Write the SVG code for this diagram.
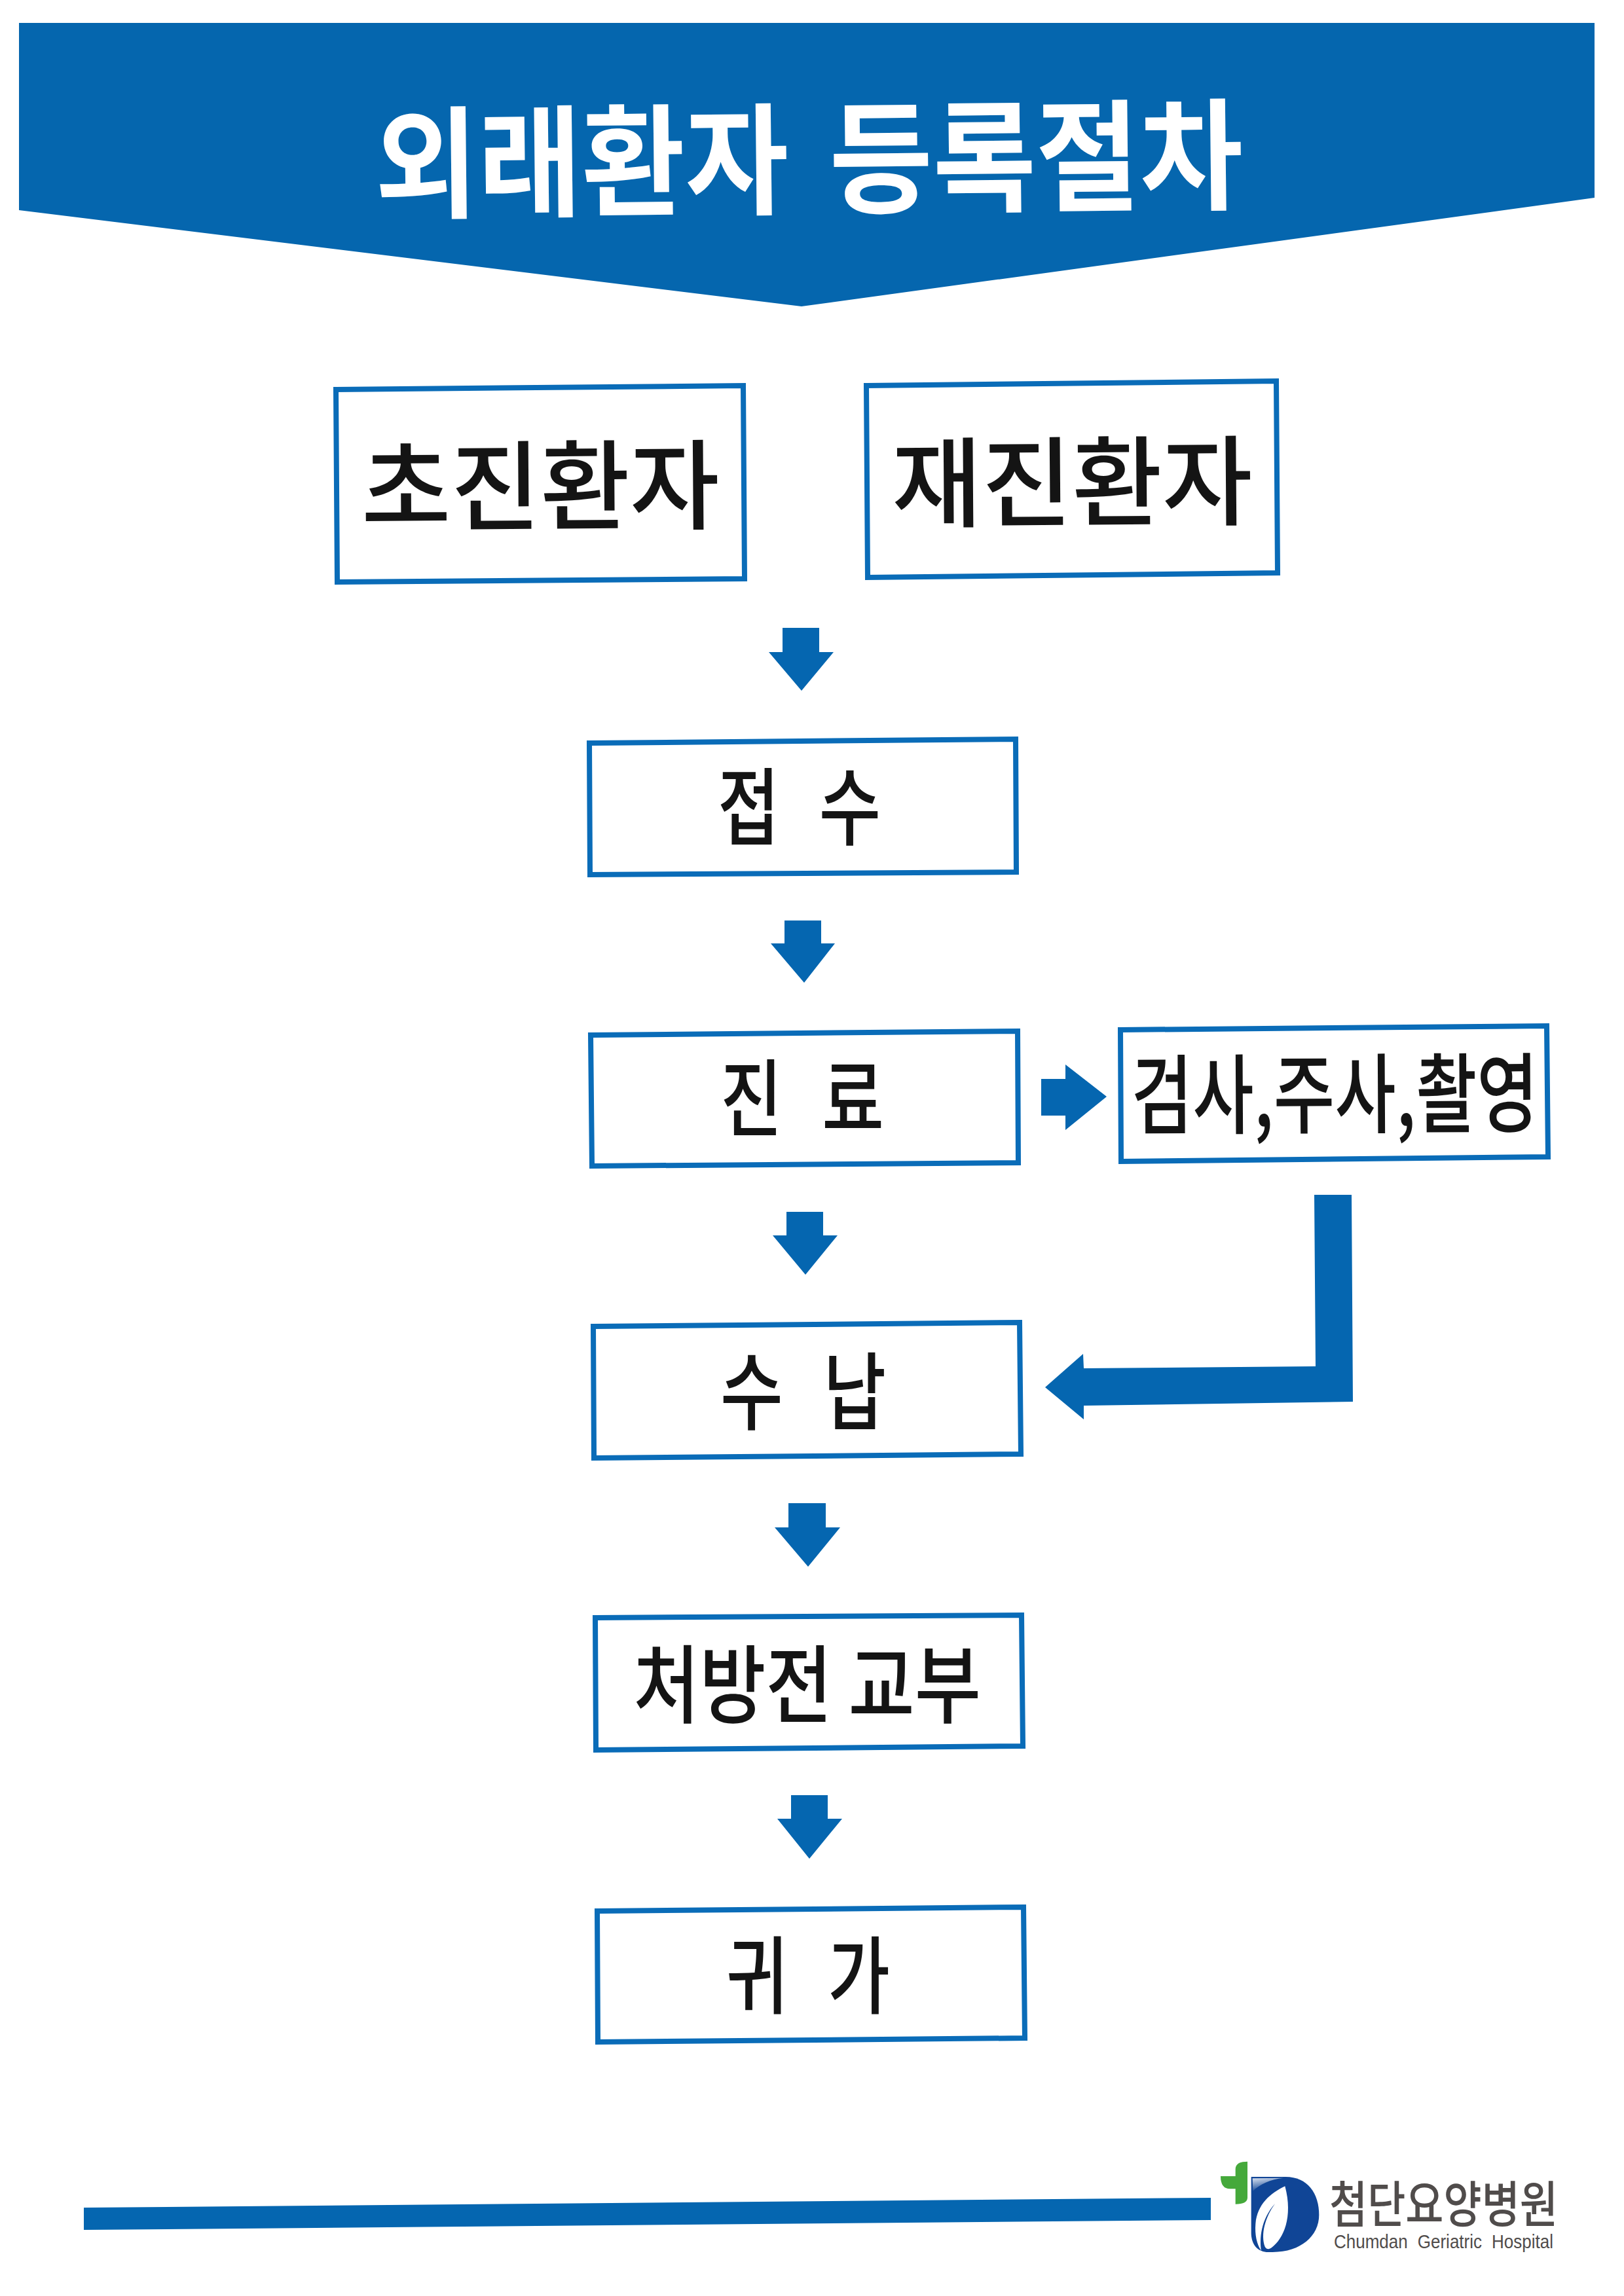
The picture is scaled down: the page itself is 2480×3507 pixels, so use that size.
<svg xmlns="http://www.w3.org/2000/svg" width="2480" height="3507" viewBox="0 0 2480 3507">
<defs>
<linearGradient id="shine" x1="0" y1="0" x2="0.35" y2="1"><stop offset="0" stop-color="#fff" stop-opacity="0.85"/><stop offset="1" stop-color="#fff" stop-opacity="0"/></linearGradient>
</defs>
<style>
.box{fill:#fff;stroke:#0a6cb8;stroke-width:8;stroke-linejoin:miter}
.arrow{fill:#0566b0}
text{font-family:"Noto Sans CJK KR","Noto Sans",sans-serif;fill:#141414;font-weight:500}
.big{font-size:150px}
.mid{font-size:129px;word-spacing:47px}
.title{font-size:185px;font-weight:700;fill:#fff;word-spacing:25px}
</style>
<rect width="2480" height="3507" fill="#fff"/>
<g id="banner">
<polygon points="29,35 2435,35 2435,302 1224,468 29,321" fill="#0566ae"/>
<text class="title" x="573" y="319" textLength="1326" lengthAdjust="spacingAndGlyphs" transform="rotate(-0.6 573 319)">외래환자 등록절차</text>
</g>
<g id="node-first-visit">
<polygon class="box" points="513,595 1135,589 1137,884 515,889"/>
<text class="big" x="552" y="800" textLength="547" lengthAdjust="spacingAndGlyphs" transform="rotate(-0.4 552 800)">초진환자</text>
</g>
<g id="node-return-visit">
<polygon class="box" points="1323,589 1949,582 1951,875 1325,882"/>
<text class="big" x="1362" y="794" textLength="551" lengthAdjust="spacingAndGlyphs" transform="rotate(-0.4 1362 794)">재진환자</text>
</g>
<g id="node-reception">
<polygon class="box" points="900,1135 1551,1129 1552,1332 901,1336"/>
<text class="mid" x="1096" y="1281" textLength="249" lengthAdjust="spacingAndGlyphs">접 수</text>
</g>
<g id="node-treatment">
<polygon class="box" points="902,1581 1554,1575 1555,1776 904,1781"/>
<text class="mid" x="1100" y="1726" textLength="250" lengthAdjust="spacingAndGlyphs">진 료</text>
</g>
<g id="node-tests">
<polygon class="box" points="1711,1573 2362,1567 2364,1767 1712,1774"/>
<text x="1728" y="1722" font-size="133" textLength="621" lengthAdjust="spacingAndGlyphs" transform="rotate(-0.3 1728 1722)">검사,주사,촬영</text>
</g>
<g id="node-payment">
<polygon class="box" points="906,2026 1557,2020 1559,2221 907,2227"/>
<text class="mid" x="1100" y="2174" textLength="253" lengthAdjust="spacingAndGlyphs">수 납</text>
</g>
<g id="node-prescription">
<polygon class="box" points="909,2471 1560,2467 1562,2667 910,2673"/>
<text x="967" y="2621" font-size="130" textLength="531" lengthAdjust="spacingAndGlyphs">처방전 교부</text>
</g>
<g id="node-home">
<polygon class="box" points="912,2919 1563,2913 1565,3113 913,3119"/>
<text class="mid" x="1109" y="3066" textLength="250" lengthAdjust="spacingAndGlyphs">귀 가</text>
</g>
<g id="connectors">
<polygon class="arrow" points="1195,959 1251,959 1251,996 1273,996 1224,1055 1174,996 1195,996"/>
<polygon class="arrow" points="1198,1406 1254,1406 1254,1441 1275,1441 1228,1501 1177,1441 1198,1441"/>
<polygon class="arrow" points="1201,1851 1257,1851 1257,1887 1279,1887 1230,1947 1180,1887 1201,1887"/>
<polygon class="arrow" points="1204,2296 1261,2296 1261,2333 1283,2333 1234,2393 1183,2333 1204,2333"/>
<polygon class="arrow" points="1208,2742 1264,2742 1264,2778 1286,2778 1236,2839 1187,2778 1208,2778"/>
<polygon class="arrow" points="1590,1648 1627,1648 1627,1626 1690,1675 1627,1726 1627,1704 1590,1704"/>
<polygon class="arrow" points="2007,1825 2064,1825 2066,2141 1655,2147 1655,2168 1596,2119 1654,2068 1655,2090 2009,2087"/>
</g>
<g id="footer">
<polygon class="arrow" points="128,3372 1849,3357 1849,3391 128,3406"/>
<g id="logo" transform="translate(1860,3300) scale(0.3333)">
<path d="M135,5 L135,170 Q135,200 80,200 L80,130 L55,130 Q12,130 12,72 L80,72 L80,40 Q80,5 135,5Z" fill="#45a93b"/>
<path d="M152,75 L310,75 C410,75 463,150 463,250 C463,345 380,420 250,420 L230,420 C185,420 152,390 152,330Z" fill="#104596"/>
<path d="M158,82 L300,80 C240,85 190,110 160,140Z" fill="url(#shine)"/>
<path d="M307,118 C240,150 180,200 172,290 C168,340 178,385 198,413 C190,360 195,270 262,197 C215,260 195,340 215,395 C222,408 235,408 245,400 C300,360 345,260 307,118Z" fill="#fff"/>
</g>
<text x="2030" y="3395" font-size="76" font-weight="900" textLength="349" lengthAdjust="spacingAndGlyphs" style="fill:#504c4b">첨단요양병원</text>
<text x="2037" y="3434" font-size="30" word-spacing="9" textLength="335" lengthAdjust="spacingAndGlyphs" style="font-family:'Liberation Sans',sans-serif;font-weight:400;fill:#504c4b">Chumdan Geriatric Hospital</text>
</g>
</svg>
